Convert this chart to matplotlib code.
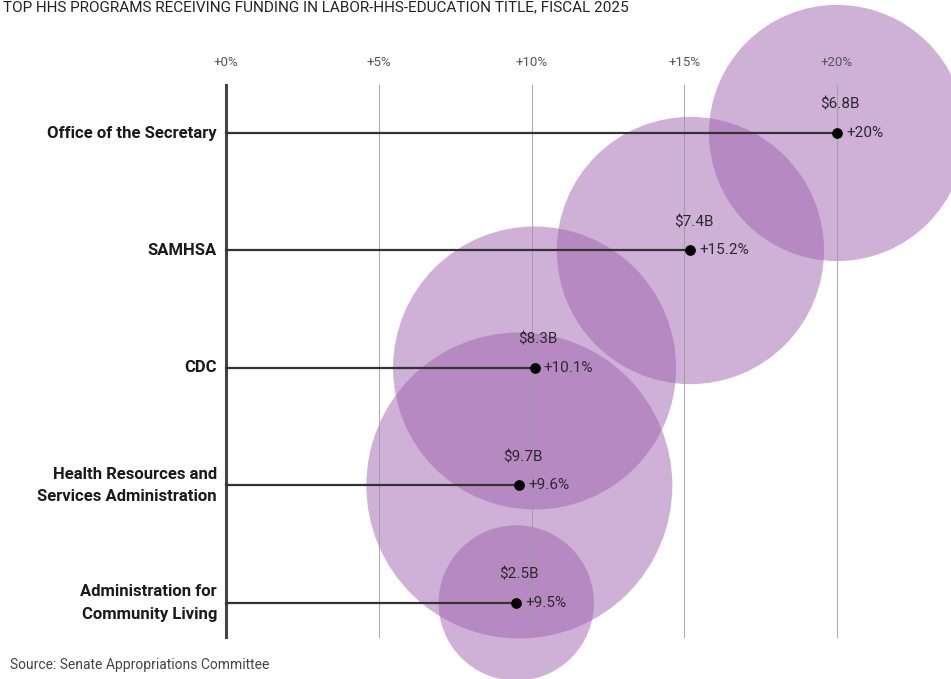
import matplotlib.pyplot as plt
import numpy as np

# data
programs = ["Office of the Secretary", "SAMHSA", "CDC",
            "Health Resources and\nServices Administration",
            "Administration for\nCommunity Living"]
pct_change = [20.0, 15.2, 10.1, 9.6, 9.5]
funding_b = [6.8, 7.4, 8.3, 9.7, 2.5]
pct_labels = ["+20%", "+15.2%", "+10.1%", "+9.6%", "+9.5%"]
tick_vals = [0, 5, 10, 15, 20]
tick_labels = ["+0%", "+5%", "+10%", "+15%", "+20%"]

plt.rcParams['font.family'] = ['Roboto', 'DejaVu Sans']

fig = plt.figure(figsize=(9.51, 6.79), dpi=100)
ax = fig.add_axes([0, 0, 1, 1])
ax.set_xlim(-7.40, 23.73)
ax.set_ylim(4.647, -1.132)
ax.axis('off')

rows = np.arange(len(programs))

# bubbles, area proportional to funding
sizes = np.array(funding_b) * 5004
ax.scatter(pct_change, rows, s=sizes, color='#a063b0', alpha=0.5,
           linewidths=0, zorder=1)

# gridlines
for t, lab in zip(tick_vals, tick_labels):
    if t == 0:
        ax.plot([t, t], [-0.41, 4.29], color='#444444', lw=2.2, zorder=3)
    else:
        ax.plot([t, t], [-0.41, 4.29], color='#9a9a9a', lw=0.8, alpha=0.8, zorder=2)
    ax.text(t, -0.60, lab, ha='center', va='center', fontsize=9.5, color='#555555')

# stems + dots
for i in rows:
    ax.plot([0, pct_change[i]], [i, i], color='#333333', lw=1.6, zorder=3)
    ax.scatter([pct_change[i]], [i], s=45, color='black', zorder=4)
    ax.text(pct_change[i] + 0.3, i, pct_labels[i], ha='left', va='center',
            fontsize=11, color='#2a2a2a', zorder=5)
    ax.text(pct_change[i] + 0.1, i - 0.24, "$%.1fB" % funding_b[i], ha='center',
            va='center', fontsize=11, color='#2a2a2a', zorder=5)
    ax.text(-0.3, i, programs[i], ha='right', va='center', fontsize=12,
            fontweight='bold', color='#1a1a1a', linespacing=1.6, zorder=5)

fig.text(0.003, 0.999, "TOP HHS PROGRAMS RECEIVING FUNDING IN LABOR-HHS-EDUCATION TITLE, FISCAL 2025",
         ha='left', va='top', fontsize=11, color='#222222')
fig.text(0.011, 0.02, "Source: Senate Appropriations Committee", ha='left',
         va='center', fontsize=10, color='#444444')

fig.savefig("out.png", dpi=100)
